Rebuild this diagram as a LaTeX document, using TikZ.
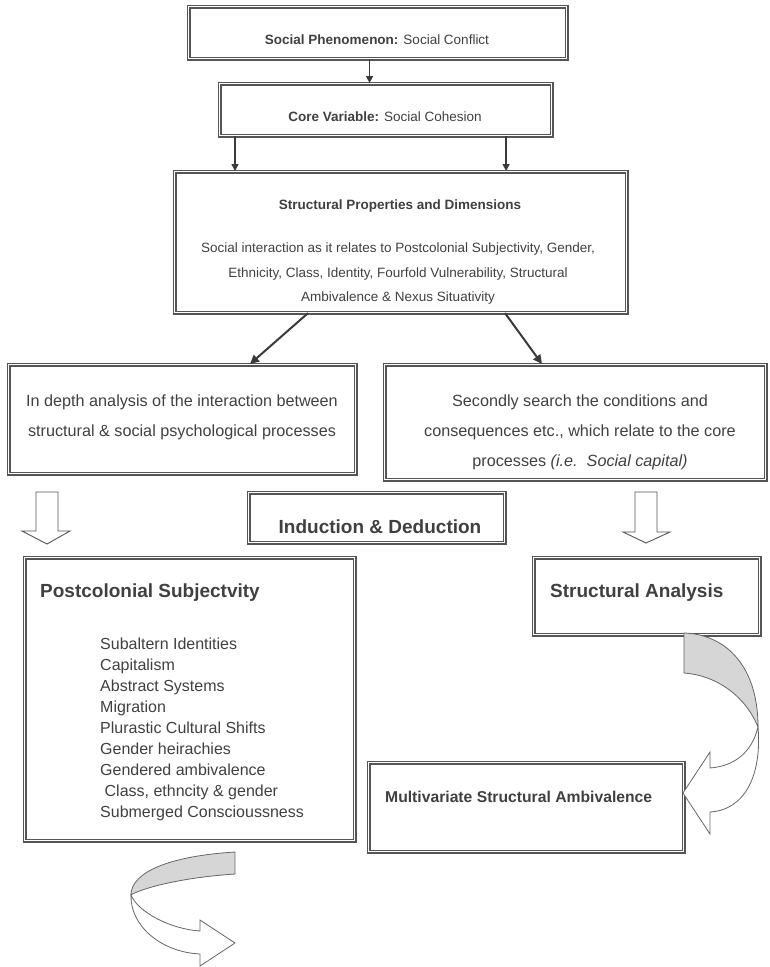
\documentclass[tikz,border=0pt]{standalone}
\usepackage{fontspec}
\setmainfont{Liberation Sans}
\usetikzlibrary{arrows.meta,calc}
\definecolor{ink}{HTML}{404040}
\definecolor{framec}{HTML}{555558}
\definecolor{bandc}{HTML}{D6D6D6}
\begin{document}
\begin{tikzpicture}[x=1pt,y=-1pt,
  box/.style={draw=framec, double=white, double distance=1.8pt, line width=1.1pt,
              inner sep=0pt, anchor=north west},
  txt/.style={text=ink, inner sep=0pt},
  small/.style={font=\fontsize{13.5}{24.5}\selectfont},
  mid/.style={font=\fontsize{16.2}{30}\selectfont},
  head/.style={font=\bfseries\fontsize{19}{22}\selectfont},
  link/.style={draw=ink!90!black, line width=1.5pt, -{Triangle[length=7pt,width=7pt]}},
  biglink/.style={link, line width=2pt, -{Triangle[length=9pt,width=8.5pt]}},
  hollow/.style={draw=framec, line width=0.9pt, fill=white, line join=miter},
  twist/.style={draw=framec!90, line width=0.8pt},
]
\useasboundingbox (0,0) rectangle (769,967);

% frames
\node[box, minimum width=378pt, minimum height=52pt]  (phen)   at (188,6)   {};
\node[box, minimum width=332pt, minimum height=52pt]  (core)   at (219,83)  {};
\node[box, minimum width=452pt, minimum height=141pt] (props)  at (174,171) {};
\node[box, minimum width=347pt, minimum height=109pt] (depth)  at (8,364)   {};
\node[box, minimum width=381pt, minimum height=115pt] (search) at (384,364) {};
\node[box, minimum width=256pt, minimum height=50pt]  (induct) at (248,492) {};
\node[box, minimum width=330pt, minimum height=283pt] (postco) at (24,557)  {};
\node[box, minimum width=226pt, minimum height=77pt]  (struct) at (533,557) {};
\node[box, minimum width=315pt, minimum height=89pt]  (multi)  at (368,762) {};

% texts
\node[txt, small] (phenT) at (377,40) {\textbf{Social Phenomenon:} Social Conflict};
\node[txt, small] (coreT) at (385,117) {\textbf{Core Variable:} Social Cohesion};
\node[txt, small, font=\bfseries\fontsize{13.5}{16}\selectfont] (propsH) at (400,206)
  {Structural Properties and Dimensions};
\node[txt, small, align=center] (propsT) at (398,274)
  {Social interaction as it relates to Postcolonial Subjectivity, Gender,\\
   Ethnicity, Class, Identity, Fourfold Vulnerability, Structural\\
   Ambivalence \& Nexus Situativity};
\node[txt, mid, align=center] (depthT) at (182,417)
  {In depth analysis of the interaction between\\
   structural \& social psychological processes};
\node[txt, mid, align=center] (searchT) at (580,432)
  {Secondly search the conditions and\\
   consequences etc., which relate to the core\\
   processes \textit{(i.e.\ \ Social capital)}};
\node[txt, head] (inductT) at (380,527) {Induction \& Deduction};
\node[txt, head, anchor=west] (postcoH) at (40,593) {Postcolonial Subjectvity};
\node[txt, anchor=north west, align=left, font=\fontsize{16}{20.9}\selectfont] (postcoL) at (100,638)
  {Subaltern Identities\\
   Capitalism\\
   Abstract Systems\\
   Migration\\
   Plurastic Cultural Shifts\\
   Gender heirachies\\
   Gendered ambivalence\\
   \ Class, ethncity \& gender\\
   Submerged Conscioussness};
\node[txt, head, anchor=west] (structT) at (550,593) {Structural Analysis};
\node[txt, anchor=west, font=\bfseries\fontsize{15.7}{18}\selectfont] (multiT) at (385,797)
  {Multivariate Structural Ambivalence};

% straight connectors
\draw[link] ([xshift=-8pt]phen.south) -- ([xshift=-8pt]phen.south |- core.north);
\draw[link] ([xshift=16pt]core.south west) -- ([xshift=16pt]core.south west |- props.north);
\draw[link] ([xshift=-46pt]core.south east) -- ([xshift=-46pt]core.south east |- props.north);
\draw[biglink] ([xshift=134pt]props.south west) -- ([xshift=242pt]depth.north west);
\draw[biglink] ([xshift=331pt]props.south west) -- ([xshift=158pt]search.north west);

% hollow block arrows
\draw[hollow] (36,492) -- (58,492) -- (58,531) -- (70,531) -- (47,544) -- (22,531) -- (36,531) -- cycle;
\draw[hollow] (635,492) -- (657,492) -- (657,532) -- (670,532) -- (646,543) -- (623,532) -- (635,532) -- cycle;

% curved arrow on the right: back face, then front face with head
\draw[twist, fill=bandc] (684,633) .. controls (722,634) and (758,662) .. (758,727)
  .. controls (745,695) and (715,675) .. (684,673) -- cycle;
\draw[twist, fill=white] (758,727) .. controls (752,752) and (735,766) .. (710,768)
  -- (710,752) -- (683,793) -- (710,834) -- (710,812)
  .. controls (745,810) and (762,775) .. (758,727) -- cycle;

% curved arrow at the bottom left
\draw[twist, fill=bandc] (235,852) .. controls (170,856) and (131,872) .. (131,895)
  .. controls (138,890) and (175,878) .. (235,874) -- cycle;
\draw[twist, fill=white] (131,895) .. controls (138,912) and (170,929) .. (200,931)
  -- (200,920) -- (235,943) -- (200,966) -- (200,954)
  .. controls (160,952) and (130,925) .. (131,895) -- cycle;
\end{tikzpicture}
\end{document}
